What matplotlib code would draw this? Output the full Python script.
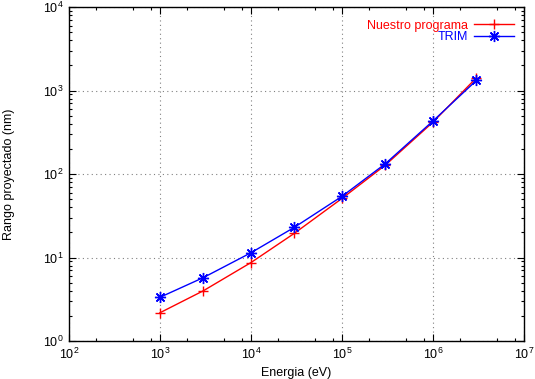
import matplotlib
matplotlib.use("Agg")
import matplotlib.pyplot as plt
from matplotlib.ticker import LogLocator, NullFormatter

plt.rcParams['font.family'] = ['Liberation Sans', 'DejaVu Sans']
plt.rcParams['mathtext.fontset'] = 'custom'
plt.rcParams['mathtext.rm'] = 'Liberation Sans'
plt.rcParams['mathtext.default'] = 'regular'

energia = [1e3, 3e3, 1e4, 3e4, 1e5, 3e5, 1e6, 3e6]
nuestro = [2.18, 4.0, 8.7, 19.5, 51, 128, 418, 1420]
trim = [3.34, 5.75, 11.4, 23, 54, 133, 432, 1320]

fig = plt.figure(figsize=(5.35, 3.79), dpi=100)
ax = fig.add_axes([69/535, 38/379, (524-69)/535, (341-7)/379])

ax.plot(energia, nuestro, color='#ff0000', lw=1, marker='+', ms=7.5, mew=1,
        label='Nuestro programa')
ax.plot(energia, trim, color='#0000ff', lw=1, marker=(8, 2, 0), ms=8, mew=1,
        label='TRIM')

ax.set_xscale('log')
ax.set_yscale('log')
ax.set_xlim(1e2, 1e7)
ax.set_ylim(1e0, 1e4)

ax.xaxis.set_major_locator(LogLocator(base=10, numticks=20))
ax.xaxis.set_minor_locator(LogLocator(base=10, subs=[2, 5, 8], numticks=20))
ax.yaxis.set_major_locator(LogLocator(base=10, numticks=20))
ax.yaxis.set_minor_locator(LogLocator(base=10, subs=range(2, 10), numticks=20))
ax.xaxis.set_minor_formatter(NullFormatter())
ax.yaxis.set_minor_formatter(NullFormatter())

ax.tick_params(which='both', direction='in', top=True, right=True, labelsize=9,
               width=0.8, colors='black')
ax.tick_params(which='major', length=5, pad=4)
ax.tick_params(which='minor', length=2.5)

ax.grid(True, which='major', color='#808080', linestyle=(0, (1, 3)), lw=0.8)
for s in ax.spines.values():
    s.set_linewidth(1)

ax.set_xlabel('Energia (eV)', fontsize=9, labelpad=4)
ax.set_ylabel('Rango proyectado (nm)', fontsize=9, labelpad=20)

leg = ax.legend(loc='upper right', bbox_to_anchor=(0.995, 0.985), frameon=False,
                markerfirst=False, fontsize=9, handlelength=3.2,
                handletextpad=0.5, labelspacing=-0.02, borderaxespad=0.2,
                labelcolor='linecolor')

fig.savefig('out.png', dpi=100)
